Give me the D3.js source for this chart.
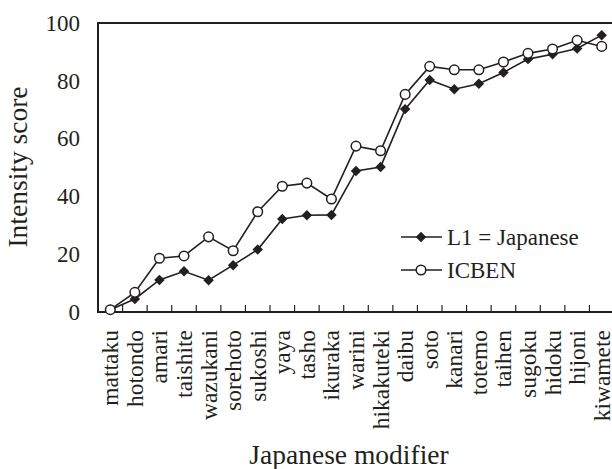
<!DOCTYPE html>
<html>
<head>
<meta charset="utf-8">
<script src="https://cdn.jsdelivr.net/npm/d3@7"></script>
<style>
  html, body { margin: 0; padding: 0; background: #fff; }
  svg { display: block; }
  text { font-family: "Liberation Serif", "Times New Roman", serif; fill: #231f20; }
</style>
</head>
<body>
<svg id="chart" width="612" height="469"></svg>
<script>
const categories = ["mattaku", "hotondo", "amari", "taishite", "wazukani", "sorehoto", "sukoshi",
  "yaya", "tasho", "ikuraka", "warini", "hikakuteki", "daibu", "soto", "kanari", "totemo",
  "taihen", "sugoku", "hidoku", "hijoni", "kiwamete"];
const l1Japanese = [0.8, 4.5, 11.1, 14.1, 11.0, 16.2, 21.6, 32.2, 33.5, 33.6, 48.8, 50.2,
  70.2, 80.3, 77.1, 79.0, 82.9, 87.5, 89.2, 91.2, 95.8];
const icben = [0.8, 6.8, 18.6, 19.4, 26.0, 21.2, 34.7, 43.5, 44.6, 39.1, 57.4, 55.8,
  75.3, 85.0, 83.8, 83.8, 86.5, 89.5, 91.0, 94.0, 91.9];
const yTicks = [0, 20, 40, 60, 80, 100];
const seriesNames = ["L1 = Japanese", "ICBEN"];

const svg = d3.select("#chart");
const mLeft = 98, mRight = 614, mTop = 23, mBottom = 312;
const ink = "#231f20";

const x = d3.scaleBand().domain(categories).range([mLeft, mRight]).padding(0);
const y = d3.scaleLinear().domain([0, 100]).range([mBottom, mTop]);
const cx = d => x(d) + x.bandwidth() / 2;

// frame
svg.append("rect")
  .attr("x", mLeft).attr("y", mTop)
  .attr("width", mRight - mLeft).attr("height", mBottom - mTop)
  .attr("fill", "none").attr("stroke", ink).attr("stroke-width", 2);

// x ticks at band boundaries (inside)
svg.append("g").selectAll("line")
  .data(categories.slice(1))
  .join("line")
  .attr("x1", d => x(d)).attr("x2", d => x(d))
  .attr("y1", mBottom).attr("y2", mBottom - 7)
  .attr("stroke", ink).attr("stroke-width", 1.2);

// x labels
svg.append("g").selectAll("text")
  .data(categories)
  .join("text")
  .attr("transform", d => `translate(${cx(d)},330) rotate(-90)`)
  .attr("text-anchor", "end")
  .attr("dy", 8)
  .attr("font-size", 23.5)
  .text(d => d);

// y labels
const yAxis = d3.axisLeft(y).tickValues(yTicks).tickSize(0).tickPadding(18);
const gy = svg.append("g").attr("transform", `translate(${mLeft},0)`).call(yAxis);
gy.select(".domain").remove();
gy.selectAll("text")
  .attr("font-size", 23)
  .attr("fill", ink);

// axis titles
svg.append("text")
  .attr("transform", `translate(27,167) rotate(-90)`)
  .attr("text-anchor", "middle")
  .attr("font-size", 27.5)
  .text("Intensity score");
svg.append("text")
  .attr("x", 349).attr("y", 464)
  .attr("text-anchor", "middle")
  .attr("font-size", 27.5)
  .text("Japanese modifier");

const line = d3.line().x((d, i) => cx(categories[i])).y(d => y(d));
const diamond = d3.symbol().type(d3.symbolDiamond2).size(70);

function drawSeries(values, kind) {
  svg.append("path")
    .datum(values)
    .attr("d", line)
    .attr("fill", "none")
    .attr("stroke", ink)
    .attr("stroke-width", 1.6);
  const g = svg.append("g");
  if (kind === "diamond") {
    g.selectAll("path")
      .data(values)
      .join("path")
      .attr("transform", (d, i) => `translate(${cx(categories[i])},${y(d)})`)
      .attr("d", diamond)
      .attr("fill", ink);
  } else {
    g.selectAll("circle")
      .data(values)
      .join("circle")
      .attr("cx", (d, i) => cx(categories[i]))
      .attr("cy", d => y(d))
      .attr("r", 4.8)
      .attr("fill", "#fff")
      .attr("stroke", ink)
      .attr("stroke-width", 1.5);
  }
}
drawSeries(l1Japanese, "diamond");
drawSeries(icben, "circle");

// legend
const legend = svg.append("g");
const legendY = [237, 270];
seriesNames.forEach((name, i) => {
  const ly = legendY[i];
  legend.append("line")
    .attr("x1", 401).attr("x2", 442).attr("y1", ly).attr("y2", ly)
    .attr("stroke", ink).attr("stroke-width", 1.6);
  if (i === 0) {
    legend.append("path")
      .attr("transform", `translate(421,${ly})`)
      .attr("d", diamond)
      .attr("fill", ink);
  } else {
    legend.append("circle")
      .attr("cx", 421).attr("cy", ly).attr("r", 4.8)
      .attr("fill", "#fff").attr("stroke", ink).attr("stroke-width", 1.5);
  }
  legend.append("text")
    .attr("x", 447).attr("y", ly + 8)
    .attr("font-size", 23)
    .text(name);
});
</script>
</body>
</html>
